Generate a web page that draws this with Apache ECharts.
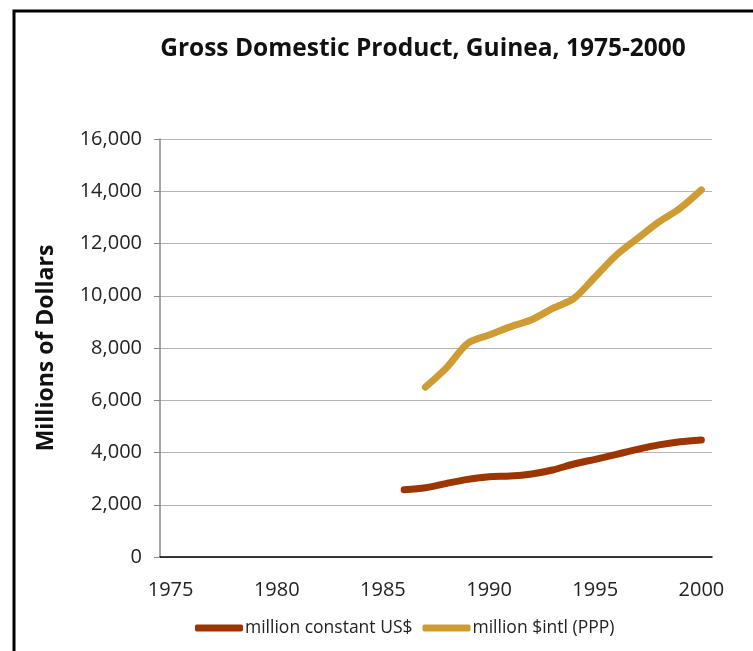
<!DOCTYPE html>
<html>
<head>
<meta charset="utf-8">
<script src="https://cdn.jsdelivr.net/npm/echarts@6/dist/echarts.min.js"></script>
<style>
  html, body { margin: 0; padding: 0; background: #fff; }
  #main { width: 753px; height: 651px; }
</style>
</head>
<body>
<div id="main"></div>
<script>
var years = [];
for (var y = 1975; y <= 2000; y++) years.push(String(y));

// values, 1975-2000 (null = no data)
var constantUS = [null, null, null, null, null, null, null, null, null, null, null,
    2570, 2650, 2820, 2970, 3070, 3100, 3180, 3330, 3560, 3740, 3930, 4120, 4290, 4410, 4480];
var intlPPP = [null, null, null, null, null, null, null, null, null, null, null, null,
    6500, 7250, 8180, 8500, 8810, 9080, 9520, 9900, 10730, 11560, 12200, 12830, 13350, 14050];

var yTicks = [0, 2000, 4000, 6000, 8000, 10000, 12000, 14000, 16000];

var chartDom = document.getElementById('main');
var myChart = echarts.init(chartDom);
var option;

var font = '"Open Sans", "Noto Sans", sans-serif';

option = {
    animation: false,
    textStyle: { fontFamily: font },
    title: {
        text: 'Gross Domestic Product, Guinea, 1975-2000',
        left: 418,
        textAlign: 'center',
        top: 32,
        textStyle: { fontSize: 24.5, fontWeight: 'bold', color: '#111', fontFamily: font }
    },
    graphic: [{
        type: 'rect',
        shape: { x: 14, y: 11, width: 900, height: 800 },
        style: { fill: 'none', stroke: '#000', lineWidth: 3 }
    }],
    legend: {
        bottom: 9,
        left: 190,
        itemWidth: 48,
        itemHeight: 7,
        itemGap: 10,
        icon: 'roundRect',
        textStyle: { fontSize: 17.5, color: '#222', padding: [0, 0, 0, -3] },
        data: ['million constant US$', 'million $intl (PPP)']
    },
    grid: {
        left: 160,
        right: 41,
        top: 139,
        bottom: 94,
        containLabel: false
    },
    xAxis: {
        type: 'category',
        data: years,
        boundaryGap: true,
        axisLine: { lineStyle: { color: '#000', width: 1.5 } },
        axisTick: { show: false },
        axisLabel: {
            interval: 4,
            fontSize: 20,
            color: '#222',
            margin: 23
        }
    },
    yAxis: {
        type: 'value',
        name: 'Millions of Dollars',
        nameLocation: 'middle',
        nameGap: 102,
        nameTextStyle: { fontSize: 23, fontWeight: 'bold', color: '#111' },
        min: yTicks[0],
        max: yTicks[yTicks.length - 1],
        interval: 2000,
        axisLine: { show: true, lineStyle: { color: '#888', width: 1.5 } },
        axisTick: { show: true, length: 6, inside: false, lineStyle: { color: '#888' } },
        splitLine: { lineStyle: { color: '#b4b4b4', width: 1.2 } },
        axisLabel: {
            fontSize: 20,
            color: '#222',
            margin: 18,
            formatter: function (v) { return v.toLocaleString('en-US'); }
        }
    },
    series: [
        {
            name: 'million constant US$',
            type: 'line',
            data: constantUS,
            smooth: 0.3,
            showSymbol: false,
            symbol: 'none',
            color: '#9c3500',
            lineStyle: { width: 7, color: '#9c3500', cap: 'round', join: 'round' }
        },
        {
            name: 'million $intl (PPP)',
            type: 'line',
            data: intlPPP,
            smooth: 0.3,
            showSymbol: false,
            symbol: 'none',
            color: '#cf9b33',
            lineStyle: { width: 7, color: '#cf9b33', cap: 'round', join: 'round' }
        }
    ]
};

option && myChart.setOption(option);
window.addEventListener("resize", function () {
    myChart.resize();
});
</script>
</body>
</html>
